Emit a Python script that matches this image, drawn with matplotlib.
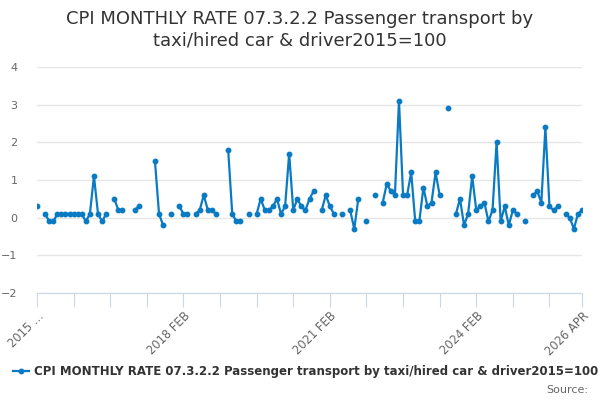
import matplotlib
matplotlib.use("Agg")
import matplotlib.pyplot as plt
from matplotlib.lines import Line2D
import numpy as np
import pandas as pd

nan = np.nan

# monthly rate, 2015 FEB .. 2026 APR (gaps where no value)
values = [
    0.3, nan, 0.1, -0.1, -0.1, 0.1, 0.1, 0.1, 0.1, 0.1,
    0.1, 0.1, -0.1, 0.1, 1.1, 0.1, -0.1, 0.1, nan, 0.5,
    0.2, 0.2, nan, nan, 0.2, 0.3, nan, nan, nan, 1.5,
    0.1, -0.2, nan, 0.1, nan, 0.3, 0.1, 0.1, nan, 0.1,
    0.2, 0.6, 0.2, 0.2, 0.1, nan, nan, 1.8, 0.1, -0.1,
    -0.1, nan, 0.1, nan, 0.1, 0.5, 0.2, 0.2, 0.3, 0.5,
    0.1, 0.3, 1.7, 0.2, 0.5, 0.3, 0.2, 0.5, 0.7, nan,
    0.2, 0.6, 0.3, 0.1, nan, 0.1, nan, 0.2, -0.3, 0.5,
    nan, -0.1, nan, 0.6, nan, 0.4, 0.9, 0.7, 0.6, 3.1,
    0.6, 0.6, 1.2, -0.1, -0.1, 0.8, 0.3, 0.4, 1.2, 0.6,
    nan, 2.9, nan, 0.1, 0.5, -0.2, 0.1, 1.1, 0.2, 0.3,
    0.4, -0.1, 0.2, 2.0, -0.1, 0.3, -0.2, 0.2, 0.1, nan,
    -0.1, nan, 0.6, 0.7, 0.4, 2.4, 0.3, 0.2, 0.3, nan,
    0.1, 0.0, -0.3, 0.1, 0.2,
]
months = pd.period_range("2015-02", periods=len(values), freq="M")
labels = [m.strftime("%Y %b").upper() for m in months]

tick_pos = list(range(0, len(values), 9)) + [len(values) - 1]
label_pos = {0: "2015 …", 36: labels[36], 72: labels[72], 108: labels[108],
             len(values) - 1: labels[-1]}

title = "CPI MONTHLY RATE 07.3.2.2 Passenger transport by taxi/hired car & driver2015=100"
blue = "#0a7bc2"

fig = plt.figure(figsize=(6, 4), dpi=100)
ax = fig.add_axes([0.0617, 0.2675, 0.9083, 0.565])

x = np.arange(len(values))
ax.plot(x, values, color=blue, lw=1.6, marker="o", ms=3.2)

ax.set_xlim(0, len(values) - 1)
ax.set_ylim(-2, 4)
ax.set_yticks(range(-2, 5))
ax.grid(axis="y", color="#e6e6e6", lw=1)
ax.set_axisbelow(True)
for s in ["top", "right", "left"]:
    ax.spines[s].set_visible(False)
ax.spines["bottom"].set_color("#ccd6eb")
ax.tick_params(axis="y", length=0, pad=14, labelcolor="#666666", labelsize=8)
ax.set_xticks(tick_pos)
ax.set_xticklabels([label_pos.get(p, "") for p in tick_pos], rotation=45,
                   ha="right", rotation_mode="anchor")
ax.tick_params(axis="x", length=10, color="#ccd6eb", labelcolor="#666666",
               labelsize=8.3, pad=2)

fig.text(0.5, 0.925, "CPI MONTHLY RATE 07.3.2.2 Passenger transport by\ntaxi/hired car & driver2015=100",
         ha="center", va="center", fontsize=13, color="#333333", linespacing=1.25)

h = Line2D([], [], color=blue, lw=1.6, marker="o", ms=3.2)
fig.legend([h], [title], loc="center right", bbox_to_anchor=(0.997, 0.072), frameon=False,
           prop={"size": 8.5, "weight": "bold"}, labelcolor="#333333",
           handlelength=1.4, handletextpad=0.4, borderpad=0, borderaxespad=0)
fig.text(0.98, 0.025, "Source:", ha="right", va="center", fontsize=8, color="#666666")

fig.savefig("out.png", dpi=100)
